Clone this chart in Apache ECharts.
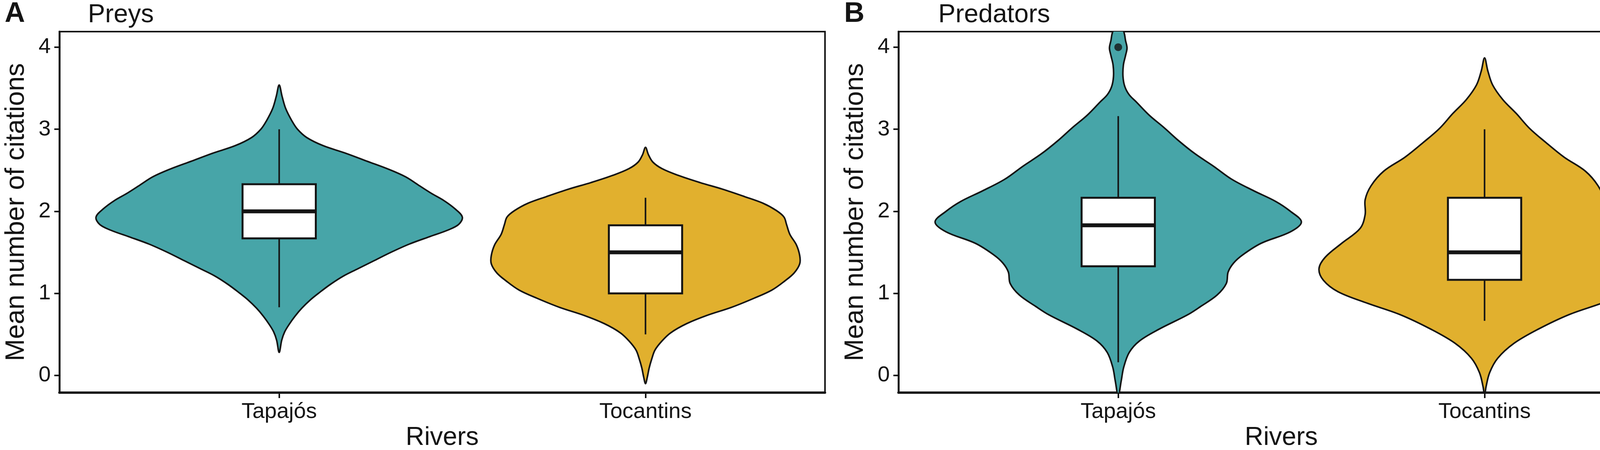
<!DOCTYPE html>
<html>
<head>
<meta charset="utf-8">
<script src="https://cdn.jsdelivr.net/npm/echarts@6/dist/echarts.min.js"></script>
<style>
  html, body { margin: 0; padding: 0; background: #fff; }
  #main { width: 4267px; height: 1153px; }
</style>
</head>
<body>
<div id="main"></div>
<script>
// Categories on the x axis
const riverNames = ['Tapajós', 'Tocantins'];
const riverColors = ['#47a5a8', '#e1b02e'];
const yTicks = [0, 1, 2, 3, 4];

// Box stats: [lower whisker, Q1, median, Q3, upper whisker]
const preyBoxes = [[0.83, 1.67, 2.0, 2.33, 3.0], [0.5, 1.0, 1.5, 1.83, 2.165]];
const predatorBoxes = [[0.16, 1.33, 1.83, 2.165, 3.16], [0.665, 1.165, 1.5, 2.165, 3.0]];
const predatorOutliers = [[1, 4.0]];

// Violin outlines: [y value, half width in x units]
const preyTapajos = [[3.54, 0], [3.40, 0.008], [3.25, 0.018], [3.10, 0.035], [3.0, 0.05], [2.90, 0.075],
  [2.80, 0.12], [2.71, 0.18], [2.61, 0.24], [2.51, 0.30], [2.42, 0.345], [2.32, 0.38], [2.22, 0.415],
  [2.13, 0.45], [2.03, 0.48], [1.93, 0.50], [1.84, 0.49], [1.77, 0.46], [1.69, 0.41], [1.60, 0.355],
  [1.50, 0.305], [1.40, 0.26], [1.30, 0.215], [1.21, 0.175], [1.11, 0.14], [1.01, 0.11], [0.92, 0.085],
  [0.82, 0.062], [0.72, 0.043], [0.62, 0.027], [0.53, 0.015], [0.43, 0.007], [0.28, 0]];
const preyTocantins = [[2.78, 0], [2.69, 0.008], [2.60, 0.02], [2.52, 0.045], [2.44, 0.088], [2.35, 0.149],
  [2.27, 0.21], [2.18, 0.27], [2.10, 0.32], [2.01, 0.357], [1.93, 0.378], [1.84, 0.385], [1.72, 0.394],
  [1.59, 0.412], [1.46, 0.421], [1.36, 0.421], [1.25, 0.406], [1.15, 0.38], [1.04, 0.345], [0.94, 0.296],
  [0.83, 0.235], [0.73, 0.167], [0.63, 0.112], [0.52, 0.069], [0.42, 0.045], [0.31, 0.026], [0.20, 0.017],
  [0.09, 0.01], [-0.02, 0.005], [-0.10, 0]];
const predatorTapajos = [[4.30, 0], [4.19, 0.015], [4.08, 0.02], [3.99, 0.024], [3.90, 0.02], [3.78, 0.014],
  [3.64, 0.013], [3.52, 0.018], [3.42, 0.03], [3.33, 0.05], [3.17, 0.085], [3.02, 0.125], [2.86, 0.165],
  [2.70, 0.21], [2.55, 0.26], [2.39, 0.31], [2.25, 0.37], [2.12, 0.43], [2.0, 0.47], [1.87, 0.50],
  [1.75, 0.47], [1.61, 0.39], [1.47, 0.34], [1.37, 0.315], [1.26, 0.30], [1.12, 0.295], [0.98, 0.27],
  [0.84, 0.225], [0.74, 0.19], [0.56, 0.11], [0.42, 0.058], [0.28, 0.03], [0.10, 0.015], [-0.07, 0.008],
  [-0.25, 0]];
const predatorTocantins = [[3.87, 0], [3.71, 0.009], [3.54, 0.022], [3.36, 0.05], [3.19, 0.087], [3.01, 0.123],
  [2.84, 0.167], [2.66, 0.217], [2.49, 0.275], [2.31, 0.31], [2.14, 0.326], [1.96, 0.326], [1.79, 0.34],
  [1.61, 0.39], [1.44, 0.435], [1.30, 0.452], [1.16, 0.44], [1.02, 0.40], [0.88, 0.32], [0.74, 0.23],
  [0.56, 0.145], [0.39, 0.08], [0.21, 0.036], [0.035, 0.014], [-0.14, 0.004], [-0.25, 0]];

const font = 'Liberation Sans, Arial, Helvetica, sans-serif';
const ink = '#141414';

let myChart = echarts.init(document.getElementById('main'), null, { renderer: 'canvas' });

// Violin shape, mirrored around the category position
function violinRender(profiles) {
    return function (params, api) {
        let i = params.dataIndex;
        let c = i + 1;
        let prof = profiles[i];
        let right = prof.map((p) => api.coord([c + p[1], p[0]]));
        let left = prof.slice(1, -1).reverse().map((p) => api.coord([c - p[1], p[0]]));
        return {
            type: 'polygon',
            shape: { points: right.concat(left), smooth: 0.35 },
            style: { fill: riverColors[i], stroke: ink, lineWidth: 4 }
        };
    };
}

// Box with whiskers and a thick median line
function boxRender(boxes) {
    return function (params, api) {
        let i = params.dataIndex;
        let c = i + 1;
        let b = boxes[i];
        let p = (x, y) => api.coord([x, y]);
        let topLeft = p(c - 0.1, b[3]);
        let botRight = p(c + 0.1, b[1]);
        return {
            type: 'group',
            children: [
                { type: 'line', shape: { x1: p(c, b[0])[0], y1: p(c, b[0])[1], x2: p(c, b[1])[0], y2: p(c, b[1])[1] },
                  style: { stroke: ink, lineWidth: 4 } },
                { type: 'line', shape: { x1: p(c, b[3])[0], y1: p(c, b[3])[1], x2: p(c, b[4])[0], y2: p(c, b[4])[1] },
                  style: { stroke: ink, lineWidth: 4 } },
                { type: 'rect', shape: { x: topLeft[0], y: topLeft[1], width: botRight[0] - topLeft[0], height: botRight[1] - topLeft[1] },
                  style: { fill: '#ffffff', stroke: ink, lineWidth: 5 } },
                { type: 'line', shape: { x1: topLeft[0], y1: p(c, b[2])[1], x2: botRight[0], y2: p(c, b[2])[1] },
                  style: { stroke: ink, lineWidth: 10 } }
            ]
        };
    };
}

function makeGrid(left) {
    return {
        left: left, width: 1960, top: 81, height: 925,
        show: true, borderColor: ink, borderWidth: 4,
        containLabel: false, outerBoundsMode: 'none'
    };
}

function makeXAxis(gridIndex) {
    return {
        type: 'value', gridIndex: gridIndex, min: 0.4, max: 2.49,
        splitLine: { show: false },
        axisLine: { show: true, onZero: false, lineStyle: { color: ink, width: 6 } },
        axisTick: { show: true, customValues: [1, 2], length: 14, lineStyle: { color: ink, width: 4 } },
        axisLabel: {
            show: true, customValues: [1, 2], margin: 22,
            fontSize: 56, fontFamily: font, color: ink,
            formatter: (v) => riverNames[Math.round(v) - 1]
        },
        name: 'Rivers', nameLocation: 'middle', nameGap: 80,
        nameTextStyle: { fontSize: 66, fontFamily: font, color: ink }
    };
}

function makeYAxis(gridIndex) {
    return {
        type: 'value', gridIndex: gridIndex, min: -0.21, max: 4.19,
        splitLine: { show: false },
        axisLine: { show: true, onZero: false, lineStyle: { color: ink, width: 5 } },
        axisTick: { show: true, customValues: yTicks, length: 13, lineStyle: { color: ink, width: 4 } },
        axisLabel: { show: true, customValues: yTicks, margin: 22, fontSize: 56, fontFamily: font, color: ink },
        name: 'Mean number of citations', nameLocation: 'middle', nameGap: 76,
        nameTextStyle: { fontSize: 68, fontFamily: font, color: ink }
    };
}

let option = {
    backgroundColor: '#ffffff',
    animation: false,
    title: [
        { text: 'A', left: 12, top: 0, padding: 0, textStyle: { fontSize: 72, fontWeight: 'bold', fontFamily: font, color: ink } },
        { text: 'Preys', left: 225, top: 6, padding: 0, textStyle: { fontSize: 66, fontWeight: 'normal', fontFamily: font, color: ink } },
        { text: 'B', left: 2161, top: 0, padding: 0, textStyle: { fontSize: 72, fontWeight: 'bold', fontFamily: font, color: ink } },
        { text: 'Predators', left: 2402, top: 6, padding: 0, textStyle: { fontSize: 66, fontWeight: 'normal', fontFamily: font, color: ink } }
    ],
    grid: [makeGrid(152), makeGrid(2300)],
    xAxis: [makeXAxis(0), makeXAxis(1)],
    yAxis: [makeYAxis(0), makeYAxis(1)],
    series: [
        {
            name: 'Preys violin', type: 'custom', xAxisIndex: 0, yAxisIndex: 0, clip: true,
            renderItem: violinRender([preyTapajos, preyTocantins]),
            data: preyBoxes.map((b, i) => [i + 1, b[2]])
        },
        {
            name: 'Preys box', type: 'custom', xAxisIndex: 0, yAxisIndex: 0, clip: true,
            renderItem: boxRender(preyBoxes),
            data: preyBoxes.map((b, i) => [i + 1, b[2]])
        },
        {
            name: 'Predators violin', type: 'custom', xAxisIndex: 1, yAxisIndex: 1, clip: true,
            renderItem: violinRender([predatorTapajos, predatorTocantins]),
            data: predatorBoxes.map((b, i) => [i + 1, b[2]])
        },
        {
            name: 'Predators box', type: 'custom', xAxisIndex: 1, yAxisIndex: 1, clip: true,
            renderItem: boxRender(predatorBoxes),
            data: predatorBoxes.map((b, i) => [i + 1, b[2]])
        },
        {
            name: 'Predators outliers', type: 'scatter', xAxisIndex: 1, yAxisIndex: 1,
            symbol: 'circle', symbolSize: 20,
            itemStyle: { color: ink },
            data: predatorOutliers
        }
    ]
};

option && myChart.setOption(option);
</script>
</body>
</html>
